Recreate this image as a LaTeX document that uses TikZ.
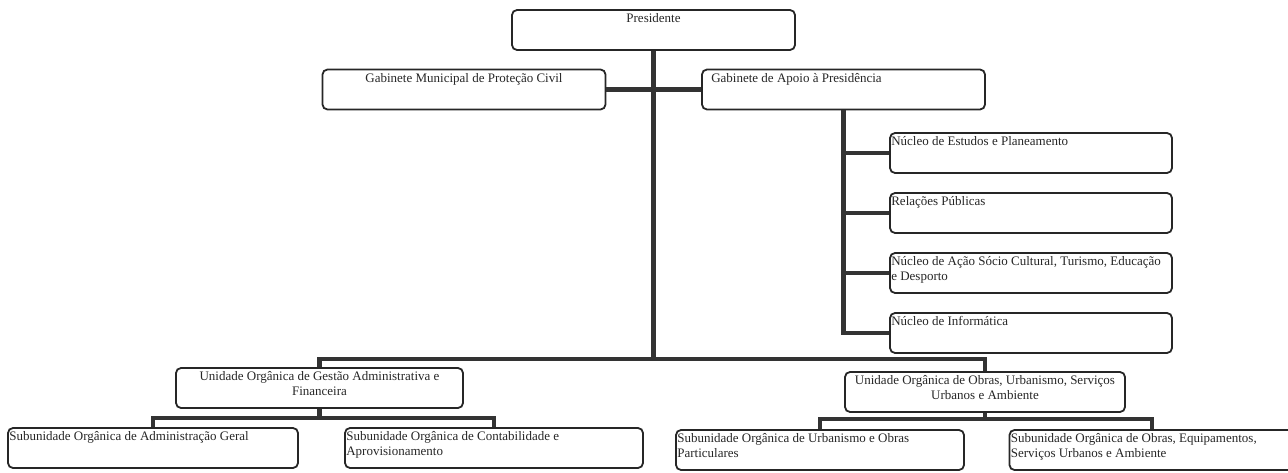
\documentclass[tikz,border=0pt]{standalone}
\usepackage{fontspec}
\setmainfont{Liberation Serif}
\tikzset{
	caixa/.style={draw=black!85,line width=1.8pt,rounded corners=5pt,minimum width=283pt,minimum height=40pt,inner sep=0pt},
	txtc/.style={anchor=north,align=center,inner xsep=2pt,inner ysep=4.5pt,text=black!85},
	txtl/.style={anchor=north west,align=left,inner xsep=2pt,inner ysep=4.5pt,text=black!85},
	ligacao/.style={draw=black!80,line width=4.5pt}
}
\begin{document}
\begin{tikzpicture}[x=1pt,y=-1pt,line join=miter,font=\fontsize{13}{15}\selectfont]
	\clip (0,0) rectangle (1288,473);
	%Presidente e gabinetes
	\node[caixa,label={[txtc]north:Presidente}] (P) at (653.5,30) {};
	\node[caixa,label={[txtc]north:Gabinete Municipal de Proteção Civil}] (GMPC) at (464,89.5) {};
	\node[caixa,label={[txtl,xshift=8pt]north west:Gabinete de Apoio à Presidência}] (GAP) at (843.5,89.5) {};
	%Núcleos
	\node[caixa,minimum width=282pt,label={[txtl]north west:Núcleo de Estudos e Planeamento}] (N1) at (1031,153) {};
	\node[caixa,minimum width=282pt,label={[txtl]north west:Relações Públicas}] (N2) at (1031,213) {};
	\node[caixa,minimum width=282pt,label={[txtl]north west:{Núcleo de Ação Sócio Cultural, Turismo, Educação\\e Desporto}}] (N3) at (1031,273) {};
	\node[caixa,minimum width=282pt,label={[txtl]north west:Núcleo de Informática}] (N4) at (1031,333) {};
	%Unidades orgânicas
	\node[caixa,minimum width=287pt,label={[txtc]north:{Unidade Orgânica de Gestão Administrativa e\\Financeira}}] (U1) at (319.5,388) {};
	\node[caixa,minimum width=280pt,label={[txtc]north:{Unidade Orgânica de Obras, Urbanismo, Serviços\\Urbanos e Ambiente}}] (U2) at (985,392) {};
	%Subunidades
	\node[caixa,minimum width=290pt,label={[txtl]north west:Subunidade Orgânica de Administração Geral}] (S1) at (153,448) {};
	\node[caixa,minimum width=298pt,label={[txtl]north west:{Subunidade Orgânica de Contabilidade e\\Aprovisionamento}}] (S2) at (494,448) {};
	\node[caixa,minimum width=288pt,label={[txtl]north west:{Subunidade Orgânica de Urbanismo e Obras\\Particulares}}] (S3) at (820,450) {};
	\node[caixa,minimum width=285pt,label={[txtl]north west:{Subunidade Orgânica de Obras, Equipamentos,\\Serviços Urbanos e Ambiente}}] (S4) at (1152,450) {};
	%Ligações
	\coordinate (B) at (653.5,359);
	\draw[ligacao] (P.south) -- (B);
	\draw[ligacao] (GMPC.east) -- (GAP.west);
	\draw[ligacao] (GAP.south) |- (N4.west);
	\foreach \n in {N1,N2,N3}
		\draw[ligacao] (GAP.south |- \n.west) -- (\n.west);
	\draw[ligacao] (U1.north) |- (B) -| (U2.north);
	\draw[ligacao] (U1.south) -- ++(0,9) coordinate (C1);
	\draw[ligacao] (S1.north) |- (C1) -| (S2.north);
	\draw[ligacao] (U2.south) -- ++(0,6) coordinate (C2);
	\draw[ligacao] (S3.north) |- (C2) -| (S4.north);
\end{tikzpicture}
\end{document}
